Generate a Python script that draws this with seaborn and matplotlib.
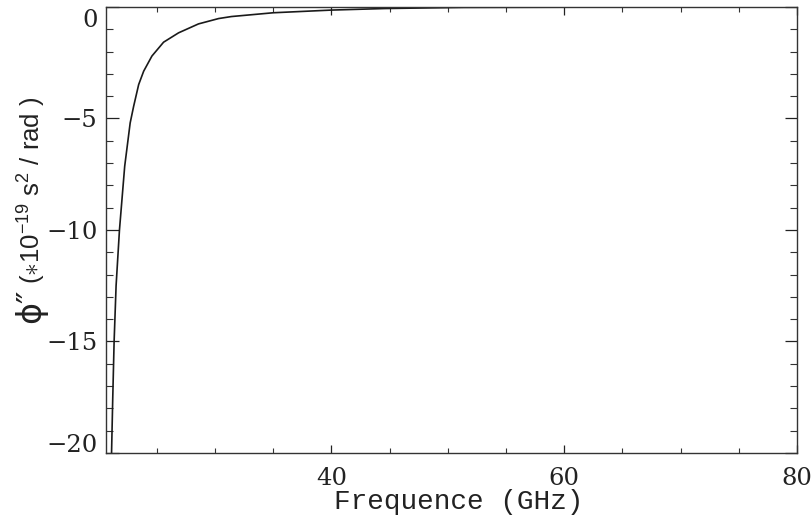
import numpy as np
import pandas as pd
import matplotlib
matplotlib.use('Agg')
import matplotlib.pyplot as plt
import matplotlib.transforms as mtransforms
from matplotlib.ticker import MultipleLocator
import seaborn as sns

# values
freq_ghz = [21.1, 21.2, 21.32, 21.49, 21.78, 22.23, 22.7, 23.0, 23.43, 23.86,
            24.57, 25.57, 26.86, 28.57, 30.3, 31.4, 35.0, 40.0, 44.6, 51.4,
            60.0, 70.0, 80.0]
phi2 = [-20.0, -17.6, -15.0, -12.5, -10.0, -7.14, -5.2, -4.45, -3.48, -2.88,
        -2.2, -1.58, -1.16, -0.76, -0.52, -0.43, -0.26, -0.14, -0.07, -0.02,
        -0.01, -0.005, 0.0]

x_ticks = [40, 60, 80]
y_ticks = [0, -5, -10, -15, -20]

df = pd.DataFrame({'freq': freq_ghz, 'phi': phi2})

sns.set_theme(style='ticks')
plt.rcParams['font.family'] = ['DejaVu Serif']
plt.rcParams['mathtext.fontset'] = 'custom'
plt.rcParams['mathtext.rm'] = 'Liberation Sans'
plt.rcParams['mathtext.it'] = 'Liberation Sans:italic'

ink = '#222222'

fig = plt.figure(figsize=(8.12, 5.31), dpi=100)
ax = fig.add_axes([0.1305, 0.1469, 0.851, 0.840])

sns.lineplot(data=df, x='freq', y='phi', ax=ax, color='#1a1a1a', linewidth=1.2,
             sort=False, estimator=None)

ax.set_xlim(20.62, 80)
ax.set_ylim(-20, 0)

ax.set_xticks(x_ticks)
ax.set_xticklabels([str(v) for v in x_ticks])
ax.set_yticks(y_ticks)
ax.set_yticklabels([str(v).replace('-', '\u2212') for v in y_ticks])
ax.xaxis.set_minor_locator(MultipleLocator(5))
ax.yaxis.set_minor_locator(MultipleLocator(1))

for s in ax.spines.values():
    s.set_linewidth(1.0)
    s.set_color('#333333')

ax.tick_params(axis='x', which='major', direction='in', length=6, width=0.9,
               top=True, labelsize=17.5, pad=10, colors=ink)
ax.tick_params(axis='x', which='minor', direction='in', length=3.5, width=0.8, top=True,
               colors='#333333')
ax.tick_params(axis='y', which='major', direction='in', length=9, width=0.9,
               right=True, labelsize=17.5, pad=6, colors=ink)
ax.tick_params(axis='y', which='minor', direction='in', length=5, width=0.8, right=True,
               colors='#333333')

# edge labels sit slightly inside, as in the original
labels = ax.get_yticklabels()
labels[0].set_transform(labels[0].get_transform() +
                        mtransforms.ScaledTranslation(0, -0.11, fig.dpi_scale_trans))
labels[-1].set_transform(labels[-1].get_transform() +
                         mtransforms.ScaledTranslation(0, 0.10, fig.dpi_scale_trans))

ax.set_xlabel('Frequence (GHz)', family=['Liberation Mono', 'DejaVu Sans Mono'],
              fontsize=20, color=ink, va='top')
ax.xaxis.set_label_coords(0.511, -0.08)

# y label: big phi plus the unit in parentheses
ax.set_ylabel('')
fig.text(40 / 812, 1 - 323 / 531, '\u03d5\u2033', family='DejaVu Sans', fontsize=24,
         rotation=90, rotation_mode='anchor', ha='left', va='baseline', color=ink)
fig.text(41 / 812, 1 - 284 / 531, r'($\ast$10$^{-19}$ s$^{2}$ / rad )',
         family='Liberation Sans', fontsize=18.5, rotation=90, rotation_mode='anchor',
         ha='left', va='baseline', color=ink)

fig.savefig('out.png', dpi=100)
